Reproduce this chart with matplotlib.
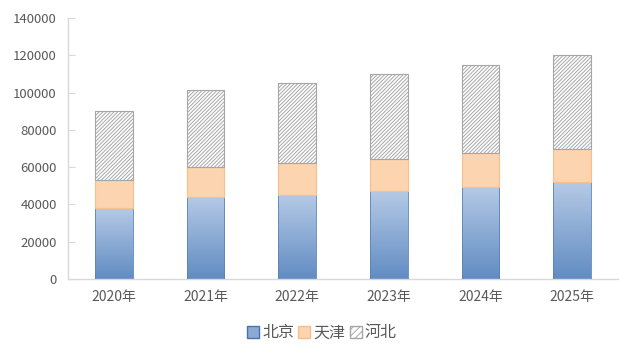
import matplotlib
matplotlib.use("Agg")
import matplotlib.pyplot as plt
import numpy as np
from matplotlib.colors import LinearSegmentedColormap
from matplotlib.patches import Patch

plt.rcParams['font.family'] = ['Noto Sans CJK SC', 'DejaVu Sans']
plt.rcParams['hatch.linewidth'] = 0.7
plt.rcParams['hatch.color'] = '#6f6f6f'

years = ['2020年', '2021年', '2022年', '2023年', '2024年', '2025年']
beijing = [38000, 44000, 45000, 47000, 49500, 52000]
tianjin = [15000, 16000, 17000, 17500, 18000, 18000]
hebei = [37000, 41500, 43000, 45500, 47500, 50000]
series_names = ['北京', '天津', '河北']

fig = plt.figure(figsize=(6.36, 3.58), dpi=100)
ax = fig.add_axes([68/636, 1-279/358, 550/636, 261/358])

x = np.arange(len(years))
w = 0.41
cmap = LinearSegmentedColormap.from_list('bj', ['#b5cae6', '#618cc2'])
grad = np.linspace(0, 1, 256).reshape(-1, 1)

b1 = ax.bar(x, beijing, w, color='none', edgecolor='#5b82b8', linewidth=0.6, zorder=3)
for rect in b1:
    x0 = rect.get_x(); h = rect.get_height()
    im = ax.imshow(grad, cmap=cmap, aspect='auto', extent=(x0, x0 + w, 0, h),
                   origin='upper', zorder=2)
    im.set_clip_path(rect)
bottom2 = np.array(beijing)
ax.bar(x, tianjin, w, bottom=bottom2, color='#fdd4b0', edgecolor='#f7bf8e', linewidth=0.8, zorder=3)
bottom3 = bottom2 + np.array(tianjin)
ax.bar(x, hebei, w, bottom=bottom3, color='white', edgecolor='#a6a6a6', hatch='/////////', linewidth=0.8, zorder=3)

ax.set_xlim(-0.5, len(years) - 0.5)
ax.set_ylim(0, 140000)
ax.set_yticks(np.arange(0, 140001, 20000))
ax.set_xticks(x)
ax.set_xticklabels(years)
for s in ['top', 'right']:
    ax.spines[s].set_visible(False)
for s in ['left', 'bottom']:
    ax.spines[s].set_color('#d9d9d9')
    ax.spines[s].set_linewidth(1)
ax.tick_params(axis='y', direction='in', length=5, color='#d9d9d9', labelsize=9.5, labelcolor='#595959', pad=8)
ax.tick_params(axis='x', length=0, labelsize=10, labelcolor='#595959', pad=8)

handles = [Patch(facecolor='#8aaad5', edgecolor='#4a72aa', label=series_names[0]),
           Patch(facecolor='#fdd4b0', edgecolor='#f7bf8e', label=series_names[1]),
           Patch(facecolor='white', edgecolor='#a6a6a6', hatch='/////', label=series_names[2])]
fig.legend(handles=handles, loc='center', bbox_to_anchor=(322/636, 1-333/358), ncol=3,
           frameon=False, fontsize=11.5, handlelength=0.75, handleheight=0.75,
           handletextpad=0.2, columnspacing=0.25, labelcolor='#595959')

fig.savefig('out.png', dpi=100)
